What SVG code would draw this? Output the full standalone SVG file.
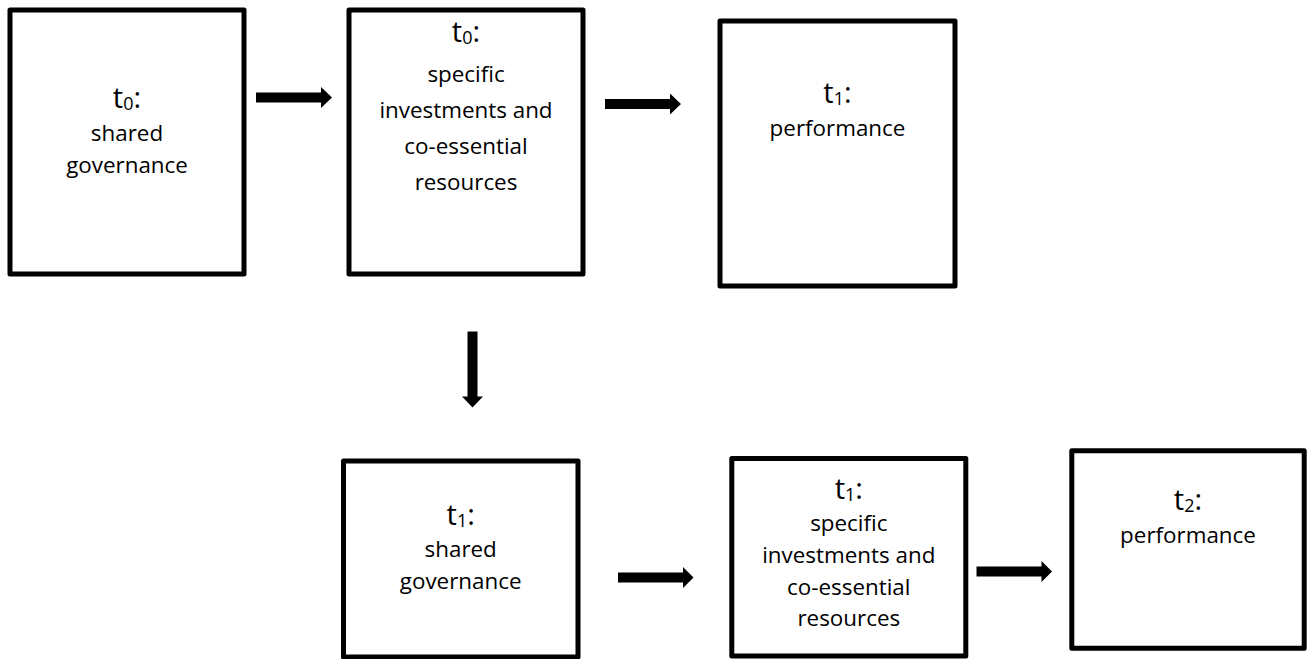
<svg xmlns="http://www.w3.org/2000/svg" width="1314" height="659" viewBox="0 0 1314 659">
  <style>
    .box { fill: #ffffff; stroke: #000000; stroke-width: 5; stroke-linejoin: round; }
    .lbl { font-family: "Open Sans", "Liberation Sans", sans-serif; font-size: 22.4px; fill: #000000; text-anchor: middle; }
    .t { font-size: 29px; }
    .sub { font-size: 18px; }
    .arrow { fill: #000000; }
  </style>
  <rect width="1314" height="659" fill="#ffffff"/>

  <g id="connectors">
    <polygon class="arrow" points="256,92.5 321,92.5 321,87 332,97.5 321,108 321,102.5 256,102.5"/>
    <polygon class="arrow" points="605,99 670,99 670,93.5 681,104 670,114.5 670,109 605,109"/>
    <polygon class="arrow" points="467.5,331.5 477.5,331.5 477.5,396.5 483,396.5 472.5,407.5 462,396.5 467.5,396.5"/>
    <polygon class="arrow" points="618,572.5 683,572.5 683,567 693.5,577.5 683,588 683,582.5 618,582.5"/>
    <polygon class="arrow" points="976.5,566.5 1041.5,566.5 1041.5,561 1052,571.5 1041.5,582 1041.5,576.5 976.5,576.5"/>
  </g>

  <g id="node-t0-governance">
    <rect class="box" x="10" y="10" width="234" height="264"/>
    <text class="lbl" x="127" y="108"><tspan class="t">t</tspan><tspan class="sub" dy="2">0</tspan><tspan class="t" dy="-2">:</tspan></text>
    <text class="lbl" x="127" y="141">shared</text>
    <text class="lbl" x="127" y="173">governance</text>
  </g>

  <g id="node-t0-investments">
    <rect class="box" x="349" y="10" width="234" height="264"/>
    <text class="lbl" x="466" y="42"><tspan class="t">t</tspan><tspan class="sub" dy="2">0</tspan><tspan class="t" dy="-2">:</tspan></text>
    <text class="lbl" x="466" y="82">specific</text>
    <text class="lbl" x="466" y="118">investments and</text>
    <text class="lbl" x="466" y="154">co-essential</text>
    <text class="lbl" x="466" y="190">resources</text>
  </g>

  <g id="node-t1-performance">
    <rect class="box" x="720" y="21" width="235" height="265"/>
    <text class="lbl" x="837.5" y="103"><tspan class="t">t</tspan><tspan class="sub" dy="2">1</tspan><tspan class="t" dy="-2">:</tspan></text>
    <text class="lbl" x="837.5" y="136">performance</text>
  </g>

  <g id="node-t1-governance">
    <rect class="box" x="343.5" y="461" width="234.5" height="196"/>
    <text class="lbl" x="460.7" y="525"><tspan class="t">t</tspan><tspan class="sub" dy="2">1</tspan><tspan class="t" dy="-2">:</tspan></text>
    <text class="lbl" x="460.7" y="557">shared</text>
    <text class="lbl" x="460.7" y="589">governance</text>
  </g>

  <g id="node-t1-investments">
    <rect class="box" x="731.8" y="458.5" width="234" height="197.5"/>
    <text class="lbl" x="848.8" y="499"><tspan class="t">t</tspan><tspan class="sub" dy="2">1</tspan><tspan class="t" dy="-2">:</tspan></text>
    <text class="lbl" x="848.8" y="531">specific</text>
    <text class="lbl" x="848.8" y="563">investments and</text>
    <text class="lbl" x="848.8" y="595">co-essential</text>
    <text class="lbl" x="848.8" y="626">resources</text>
  </g>

  <g id="node-t2-performance">
    <rect class="box" x="1071.8" y="450.8" width="232.4" height="197.4"/>
    <text class="lbl" x="1188" y="510"><tspan class="t">t</tspan><tspan class="sub" dy="2">2</tspan><tspan class="t" dy="-2">:</tspan></text>
    <text class="lbl" x="1188" y="543">performance</text>
  </g>
</svg>
